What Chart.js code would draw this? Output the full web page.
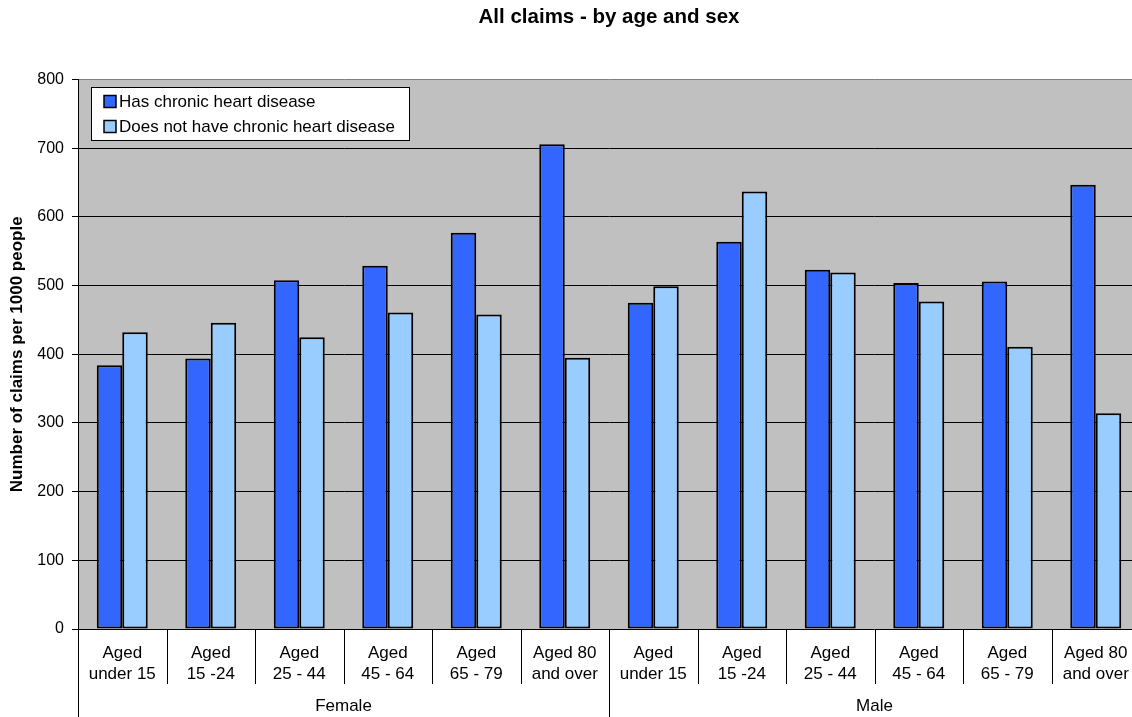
<!DOCTYPE html>
<html>
<head>
<meta charset="utf-8">
<title>All claims - by age and sex</title>
<script src="https://cdn.jsdelivr.net/npm/chart.js@4.4.1/dist/chart.umd.min.js"></script>
<style>
  html, body { margin: 0; padding: 0; background: #fff; overflow: hidden; }
  #wrap { width: 1132px; height: 717px; overflow: hidden; }
  canvas { display: block; }
</style>
</head>
<body>
<div id="wrap"><canvas id="chart" width="1180" height="717"></canvas></div>
<script>
// Age bands (two-line axis labels), repeated for each sex
const ageBands = [
  ['Aged', 'under 15'],
  ['Aged', '15 -24'],
  ['Aged', '25 - 44'],
  ['Aged', '45 - 64'],
  ['Aged', '65 - 79'],
  ['Aged 80', 'and over']
];
const sexes = ['Female', 'Male'];
const seriesNames = ['Has chronic heart disease', 'Does not have chronic heart disease'];

// Claims per 1000 people, Female bands then Male bands
const hasChd = [384, 394, 508, 529, 577, 706, 475, 564, 523, 504, 506, 647];
const noChd  = [432, 446, 425, 461, 458, 395, 499, 637, 519, 477, 411, 314];

const yTicks = [0, 100, 200, 300, 400, 500, 600, 700, 800];

const FONT = '"Liberation Sans", Arial, Helvetica, sans-serif';
const categories = sexes.flatMap(() => ageBands);

// Grey plot background
const plotBackground = {
  id: 'plotBackground',
  beforeDraw(chart) {
    const { ctx, chartArea: a } = chart;
    ctx.save();
    ctx.fillStyle = '#C0C0C0';
    ctx.fillRect(a.left, a.top, a.right - a.left, a.bottom - a.top);
    ctx.restore();
  }
};

// Boxed legend sitting in the top-left corner of the plot
const boxedLegend = {
  id: 'boxedLegend',
  afterDatasetsDraw(chart) {
    const { ctx, chartArea: a } = chart;
    ctx.save();
    ctx.font = '17px ' + FONT;
    const items = chart.data.datasets.map(d => ({ text: d.label, color: d.backgroundColor }));
    const textW = Math.max(...items.map(it => ctx.measureText(it.text).width));
    const x0 = Math.round(a.left + 13), y0 = Math.round(a.top + 7);
    const w = Math.round(28 + textW + 14), h = 53;
    ctx.fillStyle = '#fff';
    ctx.fillRect(x0, y0, w, h);
    ctx.strokeStyle = '#000';
    ctx.lineWidth = 1;
    ctx.strokeRect(x0 + 0.5, y0 + 0.5, w, h);
    items.forEach((it, i) => {
      const cy = y0 + 14.5 + i * 25;
      ctx.fillStyle = it.color;
      ctx.fillRect(x0 + 13, cy - 6, 12, 12);
      ctx.strokeStyle = '#000';
      ctx.lineWidth = 1.5;
      ctx.strokeRect(x0 + 13, cy - 6, 12, 12);
      ctx.fillStyle = '#000';
      ctx.textAlign = 'left';
      ctx.textBaseline = 'middle';
      ctx.fillText(it.text, x0 + 28, cy + 0.5);
    });
    ctx.restore();
  }
};

// Two-level category axis: age band labels, then sex group labels
const groupedAxis = {
  id: 'groupedAxis',
  afterDraw(chart) {
    const { ctx, chartArea: a } = chart;
    const xs = chart.scales.x;
    const n = chart.data.labels.length;
    const step = xs.getPixelForValue(1) - xs.getPixelForValue(0);
    const perGroup = ageBands.length;
    ctx.save();
    ctx.fillStyle = '#000';
    ctx.textAlign = 'center';
    ctx.textBaseline = 'middle';
    ctx.font = '17px ' + FONT;
    ctx.strokeStyle = '#000';
    ctx.lineWidth = 1;
    for (let i = 0; i < n; i++) {
      const cx = xs.getPixelForValue(i);
      const lines = chart.data.labels[i];
      ctx.fillText(lines[0], cx, a.bottom + 24);
      ctx.fillText(lines[1], cx, a.bottom + 45);
      const edge = Math.round(cx - step / 2) + 0.5;
      const isGroupStart = i % perGroup === 0;
      ctx.beginPath();
      ctx.moveTo(edge, a.bottom);
      ctx.lineTo(edge, isGroupStart ? chart.height : a.bottom + 55);
      ctx.stroke();
    }
    const endEdge = Math.round(xs.getPixelForValue(n - 1) + step / 2) + 0.5;
    ctx.beginPath();
    ctx.moveTo(endEdge, a.bottom);
    ctx.lineTo(endEdge, chart.height);
    ctx.stroke();
    sexes.forEach((s, g) => {
      const first = xs.getPixelForValue(g * perGroup) - step / 2;
      const last = xs.getPixelForValue(g * perGroup + perGroup - 1) + step / 2;
      ctx.fillText(s, (first + last) / 2, a.bottom + 77);
    });
    ctx.restore();
  }
};

new Chart(document.getElementById('chart'), {
  type: 'bar',
  data: {
    labels: categories,
    datasets: [
      {
        label: seriesNames[0],
        data: hasChd,
        backgroundColor: '#3366FF',
        borderColor: '#000',
        borderWidth: 2,
        borderSkipped: false
      },
      {
        label: seriesNames[1],
        data: noChd,
        backgroundColor: '#99CCFF',
        borderColor: '#000',
        borderWidth: 2,
        borderSkipped: false
      }
    ]
  },
  options: {
    responsive: false,
    animation: false,
    devicePixelRatio: 1,
    layout: { padding: { left: 0, right: 40, top: 0, bottom: 0 } },
    datasets: {
      bar: { categoryPercentage: 0.576, barPercentage: 1 }
    },
    plugins: {
      legend: { display: false },
      tooltip: { enabled: false },
      title: {
        display: true,
        text: 'All claims - by age and sex',
        fullSize: false,
        color: '#000',
        font: { family: FONT, size: 20.5, weight: 'bold', lineHeight: 1.2 },
        padding: { top: 5, bottom: 50 }
      }
    },
    scales: {
      x: {
        type: 'category',
        ticks: { display: false },
        grid: { display: false },
        border: { display: false },
        afterFit(scale) { scale.height = 88; }
      },
      y: {
        min: 0,
        max: 800,
        afterBuildTicks(scale) { scale.ticks = yTicks.map(v => ({ value: v })); },
        ticks: {
          color: '#000',
          padding: 8,
          font: { family: FONT, size: 16 }
        },
        grid: {
          color: ctx => (ctx.tick && ctx.tick.value === 800 ? '#808080' : '#000'),
          lineWidth: 1,
          tickLength: 6,
          tickColor: '#000'
        },
        border: { display: true, color: '#000', width: 1 },
        title: {
          display: true,
          text: 'Number of claims per 1000 people',
          color: '#000',
          font: { family: FONT, size: 17, weight: 'bold', lineHeight: 1.2 },
          padding: { top: 7, bottom: 0 }
        },
        afterFit(scale) { scale.width = 78; }
      }
    }
  },
  plugins: [plotBackground, boxedLegend, groupedAxis]
});
</script>
</body>
</html>
